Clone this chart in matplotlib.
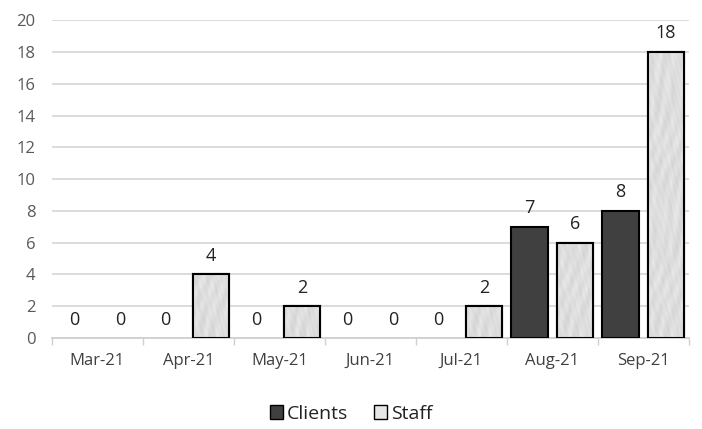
import numpy as np
import matplotlib
matplotlib.use("Agg")
import matplotlib.pyplot as plt
from matplotlib.patches import Patch

categories = ["Mar-21", "Apr-21", "May-21", "Jun-21", "Jul-21", "Aug-21", "Sep-21"]
clients = [0, 0, 0, 0, 0, 7, 8]
staff = [0, 4, 2, 0, 2, 6, 18]
yticks = list(range(0, 21, 2))

plt.rcParams['font.family'] = ['Open Sans', 'DejaVu Sans']

fig = plt.figure(figsize=(7.02, 4.29), dpi=100)
ax = fig.add_axes([0.074, 0.212, 0.907, 0.741])

x = np.arange(len(categories))
w = 0.4
off = 0.25
dark = "#404040"
light = "#e4e6e8"

lw1 = [1.5 if v > 0 else 0 for v in clients]
lw2 = [1.5 if v > 0 else 0 for v in staff]
b1 = ax.bar(x - off, clients, w, color=dark, edgecolor="black", linewidth=lw1, zorder=3)
b2 = ax.bar(x + off, staff, w, color=light, edgecolor="black", linewidth=lw2, zorder=3)

# marble-like texture for staff bars (deterministic pattern, styling only)
yy, xx = np.mgrid[0:300, 0:60].astype(float)
tex = (np.sin(xx * 0.31 + yy * 0.17 + 2.0 * np.sin(yy * 0.05)) * 0.5
       + np.sin(xx * 0.73 - yy * 0.41 + 1.3 + 1.5 * np.cos(xx * 0.11)) * 0.3
       + np.sin(yy * 0.093 + np.cos(xx * 0.21) * 3) * 0.4
       + np.sin(xx * 1.7 + yy * 1.3) * 0.15)
tex = 0.87 + 0.045 * tex / np.abs(tex).max()
for r in b2:
    h = r.get_height()
    if h <= 0:
        continue
    im = ax.imshow(tex, cmap="gray", vmin=0, vmax=1,
                   extent=(r.get_x(), r.get_x() + r.get_width(), 0, 20),
                   aspect="auto", zorder=3.5, interpolation="bilinear")
    im.set_clip_path(r)
    ax.add_patch(plt.Rectangle((r.get_x(), 0), r.get_width(), h, fill=False,
                               edgecolor="black", linewidth=1.5, zorder=4))

for bars, vals in ((b1, clients), (b2, staff)):
    for r, v in zip(bars, vals):
        ax.text(r.get_x() + r.get_width() / 2, v + 0.6, str(v), ha="center", va="bottom",
                fontsize=13, color="#222222", zorder=5)

ax.set_xlim(-0.5, len(categories) - 0.5)
ax.set_ylim(0, 20)
ax.set_yticks(yticks)
ax.set_xticks(x)
ax.set_xticklabels(categories)
ax.set_xticks(np.arange(len(categories) + 1) - 0.5, minor=True)
ax.tick_params(axis="x", which="major", length=0, pad=11, labelsize=12, labelcolor="#404040")
ax.tick_params(axis="x", which="minor", length=5, color="#d0d0d0", width=1)
ax.tick_params(axis="y", length=0, labelsize=12, labelcolor="#595959", pad=12)
ax.yaxis.grid(True, color="#d9d9d9", linewidth=1.3, zorder=0)
ax.set_axisbelow(True)
for s in ("top", "right", "left"):
    ax.spines[s].set_visible(False)
ax.spines["bottom"].set_color("#d0d0d0")
ax.spines["bottom"].set_linewidth(1.3)

handles = [Patch(facecolor=dark, edgecolor="black", label="Clients"),
           Patch(facecolor=light, edgecolor="black", label="Staff")]
fig.legend(handles=handles, loc="center", bbox_to_anchor=(0.5, 0.035), ncol=2, frameon=False,
           fontsize=14, handlelength=0.7, handleheight=0.7, handletextpad=0.2, columnspacing=1.3,
           labelcolor="#222222")

fig.savefig("out.png", dpi=100)
